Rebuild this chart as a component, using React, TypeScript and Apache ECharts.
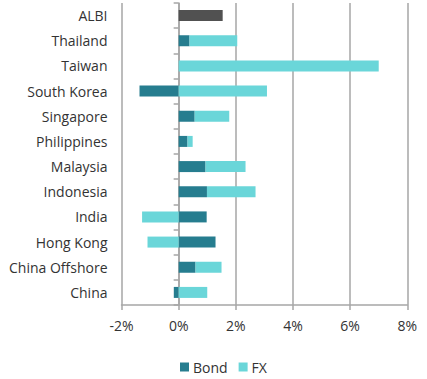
import React, { useEffect, useRef } from "react";
import * as echarts from "echarts";

const categories = [
  "ALBI",
  "Thailand",
  "Taiwan",
  "South Korea",
  "Singapore",
  "Philippines",
  "Malaysia",
  "Indonesia",
  "India",
  "Hong Kong",
  "China Offshore",
  "China",
];
const bondValues = [1.54, 0.38, 0, -1.37, 0.56, 0.31, 0.94, 0.99, 0.98, 1.29, 0.59, -0.17];
const fxValues = [0, 1.67, 7.0, 3.09, 1.21, 0.18, 1.4, 1.7, -1.28, -1.09, 0.91, 1.0];
const xTicks = { min: -2, max: 8, interval: 2 };

const BOND = "#267D8F";
const FX = "#6AD6D9";
const ALBI = "#515151";
const GRID = "#A6A6A6";
const TEXT = "#333333";
const FONT = "Open Sans";

export default function App() {
  const ref = useRef<HTMLDivElement>(null);
  useEffect(() => {
    if (!ref.current) return;
    const chart = echarts.init(ref.current, undefined, { renderer: "svg" });
    chart.setOption({
      animation: false,
      grid: { left: 121.5, right: 19.7, top: 3, bottom: 74, containLabel: false },
      legend: {
        data: ["Bond", "FX"],
        left: 175,
        top: 355,
        icon: "rect",
        itemWidth: 9,
        itemHeight: 9,
        itemGap: 11,
        textStyle: { color: TEXT, fontSize: 14, fontFamily: FONT, padding: [0, 0, 0, -1] },
      },
      xAxis: {
        type: "value",
        min: xTicks.min,
        max: xTicks.max,
        interval: xTicks.interval,
        axisLine: { show: true, onZero: false, lineStyle: { color: GRID, width: 1.5 } },
        axisTick: { show: true, length: 5, lineStyle: { color: GRID, width: 1.5 } },
        axisLabel: {
          formatter: "{value}%",
          color: TEXT,
          fontSize: 14,
          fontFamily: FONT,
          margin: 13,
        },
        splitLine: { show: true, lineStyle: { color: GRID, width: 1.5 } },
      },
      yAxis: [
        {
          type: "category",
          data: categories,
          inverse: true,
          position: "left",
          axisLine: { show: false, onZero: false },
          axisTick: { show: false },
          axisLabel: { color: TEXT, fontSize: 14, fontFamily: FONT, margin: 14 },
        },
        {
          type: "category",
          data: categories,
          inverse: true,
          position: "left",
          axisLine: { show: true, onZero: true, lineStyle: { color: GRID, width: 1.5 } },
          axisTick: { show: true, length: 5, lineStyle: { color: GRID, width: 1.5 } },
          axisLabel: { show: false },
          splitLine: { show: false },
        },
      ],
      series: [
        {
          name: "Bond",
          type: "bar",
          stack: "total",
          barWidth: 11,
          yAxisIndex: 0,
          itemStyle: { color: BOND },
          data: bondValues.map((v, i) =>
            categories[i] === "ALBI" ? { value: v, itemStyle: { color: ALBI } } : v
          ),
        },
        {
          name: "FX",
          type: "bar",
          stack: "total",
          barWidth: 11,
          yAxisIndex: 0,
          itemStyle: { color: FX },
          data: fxValues,
        },
      ],
    });
    return () => chart.dispose();
  }, []);
  return (
    <div
      ref={ref}
      style={{ position: "absolute", left: 0, top: 0, width: 427, height: 379 }}
    />
  );
}
